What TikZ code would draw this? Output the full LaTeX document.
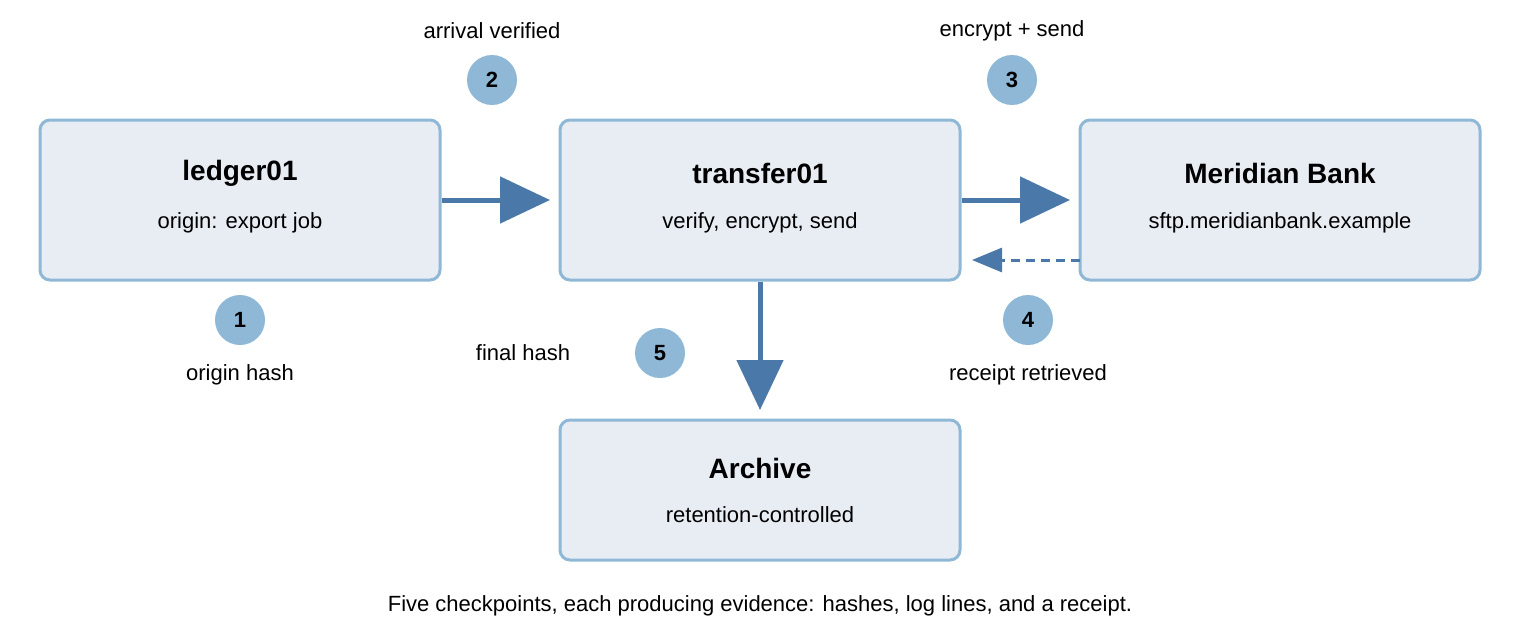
\documentclass[tikz,border=0pt]{standalone}
\usepackage{fontspec}
\setmainfont{Liberation Sans}
\usetikzlibrary{arrows.meta}
\definecolor{boxfill}{HTML}{E8EDF4}
\definecolor{boxline}{HTML}{8FB8D6}
\definecolor{arr}{HTML}{4A78A8}
\definecolor{badge}{HTML}{8FB8D6}
\begin{document}
\begin{tikzpicture}[x=1pt,y=-1pt,
  box/.style={draw=boxline,line width=3pt,fill=boxfill,rounded corners=10pt,minimum width=400pt,align=center,inner sep=0pt},
  ttl/.style={font=\fontsize{28}{32}\selectfont\bfseries},
  sub/.style={font=\fontsize{22}{26}\selectfont},
  lbl/.style={font=\fontsize{22}{26}\selectfont},
  num/.style={circle,fill=badge,minimum size=50pt,inner sep=0pt,font=\fontsize{22}{26}\selectfont\bfseries},
  big/.style={draw=arr,line width=5pt,-{Triangle[length=50pt,width=46pt]}},
  small/.style={draw=arr,line width=3pt,dashed,dash pattern=on 9pt off 6pt,-{Triangle[length=30pt,width=24pt]}}]
\useasboundingbox (0,0) rectangle (1520,640);
\node[box,minimum height=160pt] (l) at (240,200) {};
\node[ttl] (lt) at (240,173) {ledger01};
\node[sub] (ls) at (240,223) {origin: export job};
\node[box,minimum height=160pt] (t) at (760,200) {};
\node[ttl] (tt) at (760,173) {transfer01};
\node[sub] (ts) at (760,223) {verify, encrypt, send};
\node[box,minimum height=160pt] (m) at (1280,200) {};
\node[ttl] (mt) at (1280,173) {Meridian Bank};
\node[sub] (ms) at (1280,223) {sftp.meridianbank.example};
\node[box,minimum height=140pt] (a) at (760,490) {};
\node[ttl] (at) at (760,468) {Archive};
\node[sub] (as) at (760,515) {retention-controlled};
\coordinate (e1) at (550,200);
\coordinate (e2) at (1070,200);
\coordinate (e3) at (972,260);
\coordinate (s3) at (1080,260);
\coordinate (e4) at (760,410);
\draw[big] (l.east) -- (e1);
\draw[big] (t.east) -- (e2);
\draw[small] (s3) -- (e3);
\draw[big] (t.south) -- (e4);
\node[num] (n1) at (240,320) {1};
\node[num] (n2) at (492,80) {2};
\node[num] (n3) at (1012,80) {3};
\node[num] (n4) at (1028,320) {4};
\node[num] (n5) at (660,353) {5};
\node[lbl] (t1) at (240,375) {origin hash};
\node[lbl] (t2) at (492,31) {arrival verified};
\node[lbl] (t3) at (1012,31) {encrypt + send};
\node[lbl] (t4) at (1028,375) {receipt retrieved};
\node[lbl] (t5) at (523,353) {final hash};
\node[lbl] (cap) at (760,606) {Five checkpoints, each producing evidence: hashes, log lines, and a receipt.};
\end{tikzpicture}
\end{document}
